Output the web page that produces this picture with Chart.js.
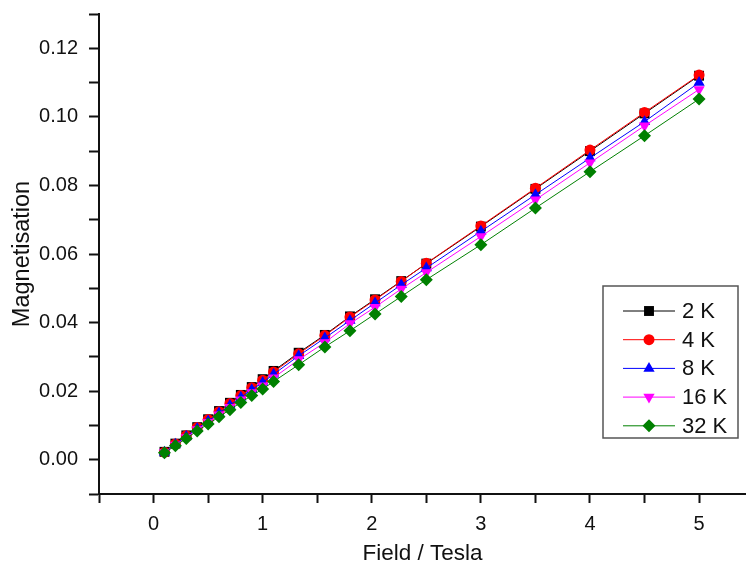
<!DOCTYPE html>
<html>
<head>
<meta charset="utf-8">
<script src="https://cdn.jsdelivr.net/npm/chart.js@4"></script>
<style>
  html, body { margin: 0; padding: 0; background: #fff; }
  #wrap { width: 746px; height: 569px; }
</style>
</head>
<body>
<div id="wrap"><canvas id="magCanvas" width="746" height="569"></canvas></div>
<script>
// Field values (Tesla)
const field = [0.1, 0.2, 0.3, 0.4, 0.5, 0.6, 0.7, 0.8, 0.9, 1.0, 1.1,
               1.33, 1.57, 1.8, 2.03, 2.27, 2.5, 3.0, 3.5, 4.0, 4.5, 5.0];

// Magnetisation, one list per temperature
const mag2K  = [0.0023, 0.0047, 0.0071, 0.0095, 0.0118, 0.0142, 0.0166, 0.0189, 0.0212, 0.0235, 0.0259,
                0.0312, 0.0364, 0.0418, 0.0468, 0.0521, 0.0572, 0.0680, 0.0790, 0.0900, 0.1010, 0.1120];
const mag4K  = [0.0022, 0.0046, 0.0070, 0.0094, 0.0117, 0.0140, 0.0164, 0.0187, 0.0210, 0.0232, 0.0256,
                0.0309, 0.0362, 0.0416, 0.0466, 0.0520, 0.0573, 0.0682, 0.0792, 0.0903, 0.1013, 0.1122];
const mag8K  = [0.0022, 0.0045, 0.0068, 0.0091, 0.0113, 0.0136, 0.0159, 0.0182, 0.0204, 0.0225, 0.0249,
                0.0303, 0.0355, 0.0406, 0.0457, 0.0510, 0.0559, 0.0666, 0.0773, 0.0880, 0.0986, 0.1100];
const mag16K = [0.0021, 0.0043, 0.0065, 0.0088, 0.0109, 0.0131, 0.0153, 0.0175, 0.0196, 0.0216, 0.0239,
                0.0292, 0.0342, 0.0397, 0.0445, 0.0498, 0.0546, 0.0651, 0.0758, 0.0866, 0.0974, 0.1080];
const mag32K = [0.0020, 0.0041, 0.0062, 0.0084, 0.0104, 0.0125, 0.0146, 0.0167, 0.0187, 0.0206, 0.0228,
                0.0277, 0.0329, 0.0376, 0.0425, 0.0476, 0.0525, 0.0627, 0.0734, 0.0840, 0.0945, 0.1052];

const seriesLabels = ['2 K', '4 K', '8 K', '16 K', '32 K'];
const seriesValues = [mag2K, mag4K, mag8K, mag16K, mag32K];

// Axis ticks (labels only on whole numbers / every 0.02)
const xTickValues = [-0.5, 0, 0.5, 1, 1.5, 2, 2.5, 3, 3.5, 4, 4.5, 5];
const xMin = -0.5, xMax = 5.43;
const yMin = -0.01, yMax = 0.13, yStep = 0.01;

const styles = [
  { color: '#000000', pointStyle: 'rect',     radius: 7,   rotation: 0 },
  { color: '#ff0000', pointStyle: 'circle',   radius: 5.5, rotation: 0 },
  { color: '#0000ff', pointStyle: 'triangle', radius: 6.5, rotation: 0 },
  { color: '#ff00ff', pointStyle: 'triangle', radius: 6.5, rotation: 180 },
  { color: '#008000', pointStyle: 'rectRot',  radius: 6.5, rotation: 0 }
];

const FONT = '"Liberation Sans", Arial, sans-serif';

// Legend drawn as a bordered box with line + marker samples
const boxLegend = {
  id: 'boxLegend',
  afterDraw(chart) {
    const ctx = chart.ctx;
    const left = 603, top = 286, w = 135, h = 152;
    ctx.save();
    ctx.strokeStyle = '#555';
    ctx.lineWidth = 1.5;
    ctx.strokeRect(left, top, w, h);
    chart.data.datasets.forEach((ds, i) => {
      const y = 311 + i * 28.7;
      ctx.strokeStyle = ds.borderColor;
      ctx.lineWidth = 1;
      ctx.beginPath();
      ctx.moveTo(623, y);
      ctx.lineTo(675, y);
      ctx.stroke();
      ctx.fillStyle = ds.pointBackgroundColor;
      ctx.strokeStyle = ds.pointBackgroundColor;
      Chart.helpers.drawPoint(ctx, {
        pointStyle: ds.pointStyle,
        radius: ds.pointRadius,
        rotation: ds.pointRotation,
        borderWidth: 0
      }, 649, y);
      ctx.fillStyle = '#111';
      ctx.font = '22px ' + FONT;
      ctx.textBaseline = 'middle';
      ctx.textAlign = 'left';
      ctx.fillText(ds.label, 682, y + 1);
    });
    ctx.restore();
  }
};

const datasets = seriesLabels.map((label, i) => ({
  label: label,
  data: field.map((x, j) => ({ x: x, y: seriesValues[i][j] })),
  borderColor: styles[i].color,
  borderWidth: 1,
  backgroundColor: styles[i].color,
  pointBackgroundColor: styles[i].color,
  pointBorderColor: styles[i].color,
  pointBorderWidth: 0,
  pointStyle: styles[i].pointStyle,
  pointRadius: styles[i].radius,
  pointRotation: styles[i].rotation,
  showLine: true,
  tension: 0,
  order: seriesLabels.length - i   // 32 K ends up on top
}));

const isMultiple = (v, step) => Math.abs(v / step - Math.round(v / step)) < 1e-6;

new Chart(document.getElementById('magCanvas'), {
  type: 'scatter',
  data: { datasets: datasets },
  options: {
    responsive: false,
    animation: false,
    layout: { autoPadding: false, padding: { top: 14, right: 0, left: 0, bottom: 0 } },
    plugins: {
      legend: { display: false },
      tooltip: { enabled: false }
    },
    scales: {
      x: {
        type: 'linear',
        min: xMin,
        max: xMax,
        afterBuildTicks: (scale) => { scale.ticks = xTickValues.map(v => ({ value: v })); },
        afterFit: (scale) => {
          scale.height = 75;
          scale.paddingLeft = 0;
          scale.paddingRight = 0;
        },
        border: { display: true, color: '#111', width: 2 },
        grid: {
          drawOnChartArea: false,
          drawTicks: true,
          tickLength: 9,
          tickWidth: 2,
          tickColor: '#111'
        },
        ticks: {
          autoSkip: false,
          maxRotation: 0,
          padding: 9,
          color: '#111',
          font: { family: FONT, size: 20 },
          callback: (v) => (isMultiple(v, 1) ? String(Math.round(v)) : '')
        },
        title: {
          display: true,
          text: 'Field / Tesla',
          color: '#111',
          font: { family: FONT, size: 22.5 },
          padding: { top: 0, bottom: 2 }
        }
      },
      y: {
        type: 'linear',
        min: yMin,
        max: yMax,
        afterFit: (scale) => {
          scale.width = 99;
          scale.paddingTop = 0;
          scale.paddingBottom = 0;
        },
        border: { display: true, color: '#111', width: 2 },
        grid: {
          drawOnChartArea: false,
          drawTicks: true,
          tickLength: 10,
          tickWidth: 2,
          tickColor: '#111'
        },
        ticks: {
          stepSize: yStep,
          autoSkip: false,
          padding: 11,
          color: '#111',
          font: { family: FONT, size: 20 },
          callback: (v) => (isMultiple(v, 0.02) ? v.toFixed(2) : '')
        },
        title: {
          display: true,
          text: 'Magnetisation',
          color: '#111',
          font: { family: FONT, size: 23.5 },
          padding: { top: 8, bottom: 0 }
        }
      }
    }
  },
  plugins: [boxLegend]
});
</script>
</body>
</html>
